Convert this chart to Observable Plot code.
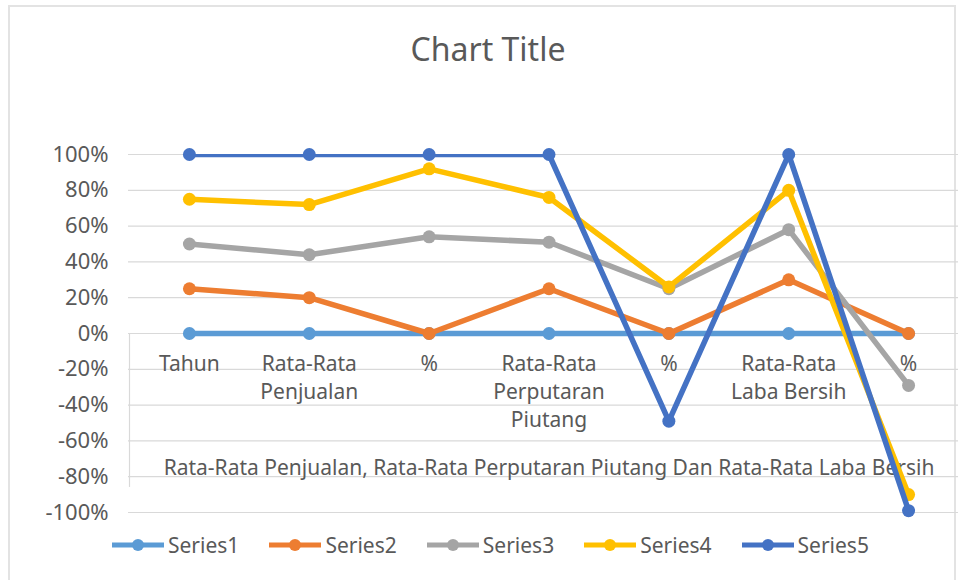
<!DOCTYPE html>
<html>
<head>
<meta charset="utf-8">
<script src="https://cdn.jsdelivr.net/npm/d3@7"></script>
<script src="https://cdn.jsdelivr.net/npm/@observablehq/plot@0.6"></script>
<style>
  body { margin: 0; background: #fff; font-family: "Noto Sans", sans-serif; color: #595959; }
  #page { position: relative; width: 958px; height: 580px; overflow: hidden; }
  #border { position: absolute; left: 8px; top: 5px; width: 948px; height: 620px; border: 2px solid #e3e3e3; box-sizing: border-box; }
  #title { position: absolute; top: 27px; left: 14px; width: 948px; text-align: center; font-size: 32px; color: #595959; }
  #chart { position: absolute; top: 100px; left: 0; }
  #legend { position: absolute; top: 531px; left: 112px; display: flex; align-items: center; font-size: 21px; color: #595959; }
  .item { display: flex; align-items: center; margin-right: 30px; }
  .item svg { margin-right: 4px; }
</style>
</head>
<body>
<div id="page">
  <div id="border"></div>
  <div id="title">Chart Title</div>
  <div id="chart"></div>
  <div id="legend"></div>
</div>
<script>
// Categories (wrapped as in the original)
const categories = ["Tahun", "Rata-Rata\nPenjualan", "%", "Rata-Rata\nPerputaran\nPiutang", "%", "Rata-Rata\nLaba Bersih", "%"];
const axisTitle = "Rata-Rata Penjualan, Rata-Rata Perputaran Piutang Dan Rata-Rata Laba Bersih";
const seriesNames = ["Series1", "Series2", "Series3", "Series4", "Series5"];
const seriesColors = ["#5B9BD5", "#ED7D31", "#A5A5A5", "#FFC000", "#4472C4"];

// Values (fractions)
const series1 = [0, 0, 0, 0, 0, 0, 0];
const series2 = [0.25, 0.20, 0.00, 0.25, 0.00, 0.30, 0.00];
const series3 = [0.50, 0.44, 0.54, 0.51, 0.25, 0.58, -0.29];
const series4 = [0.75, 0.72, 0.92, 0.76, 0.26, 0.80, -0.90];
const series5 = [1.00, 1.00, 1.00, 1.00, -0.49, 1.00, -0.99];
const allSeries = [series1, series2, series3, series4, series5];

const yTicks = [-1, -0.8, -0.6, -0.4, -0.2, 0, 0.2, 0.4, 0.6, 0.8, 1];
const pct = d => Math.round(d * 100) + "%";

const rows = [];
allSeries.forEach((vals, s) => vals.forEach((v, i) => rows.push({series: seriesNames[s], i, v})));
const labelRows = categories.map((label, i) => ({i, label}));

const seriesMarks = [];
seriesNames.forEach((name, s) => {
  const d = rows.filter(r => r.series === name);
  seriesMarks.push(Plot.line(d, {x: "i", y: "v", stroke: seriesColors[s], strokeWidth: 5.5, clip: true}));
  seriesMarks.push(Plot.dot(d, {x: "i", y: "v", fill: seriesColors[s], r: 6.5, stroke: "none"}));
});

const chart = Plot.plot({
  width: 958,
  height: 425,
  marginLeft: 128,
  marginRight: 0,
  marginTop: 54,
  marginBottom: 13,
  style: {fontFamily: "Noto Sans, sans-serif", fontSize: "21px", color: "#595959", background: "transparent"},
  x: {type: "linear", domain: [-0.5, categories.length - 0.5], range: [129, 968], axis: null},
  y: {domain: [-1, 1], ticks: yTicks, tickFormat: pct, tickSize: 0, label: null, axis: null},
  marks: [
    Plot.gridY(yTicks, {stroke: "#d9d9d9", strokeOpacity: 1, strokeWidth: 1.2}),
    Plot.ruleX([{x: -0.5, y1: 0, y2: -0.86}], {x: "x", y1: "y1", y2: "y2", stroke: "#d9d9d9", strokeWidth: 1.2}),
    Plot.axisY({ticks: yTicks, tickFormat: pct, tickSize: 0, tickPadding: 20, fontSize: 22, fill: "#595959", label: null}),
    Plot.text(labelRows, {x: "i", y: () => 0, text: "label", dy: 18, lineAnchor: "top", lineHeight: 1.33, fontSize: 21, fill: "#595959"}),
    Plot.text([axisTitle], {x: () => (categories.length - 1) / 2, frameAnchor: "bottom", dy: -38, fontSize: 21, fill: "#595959"}),
    ...seriesMarks
  ]
});
document.getElementById("chart").appendChild(chart);

// Legend
const legend = document.getElementById("legend");
seriesNames.forEach((name, s) => {
  const item = document.createElement("div");
  item.className = "item";
  item.innerHTML = `<svg width="52" height="16"><line x1="0" y1="8" x2="52" y2="8" stroke="${seriesColors[s]}" stroke-width="5"/><circle cx="26" cy="8" r="6" fill="${seriesColors[s]}"/></svg><span>${name}</span>`;
  legend.appendChild(item);
});
</script>
</body>
</html>
